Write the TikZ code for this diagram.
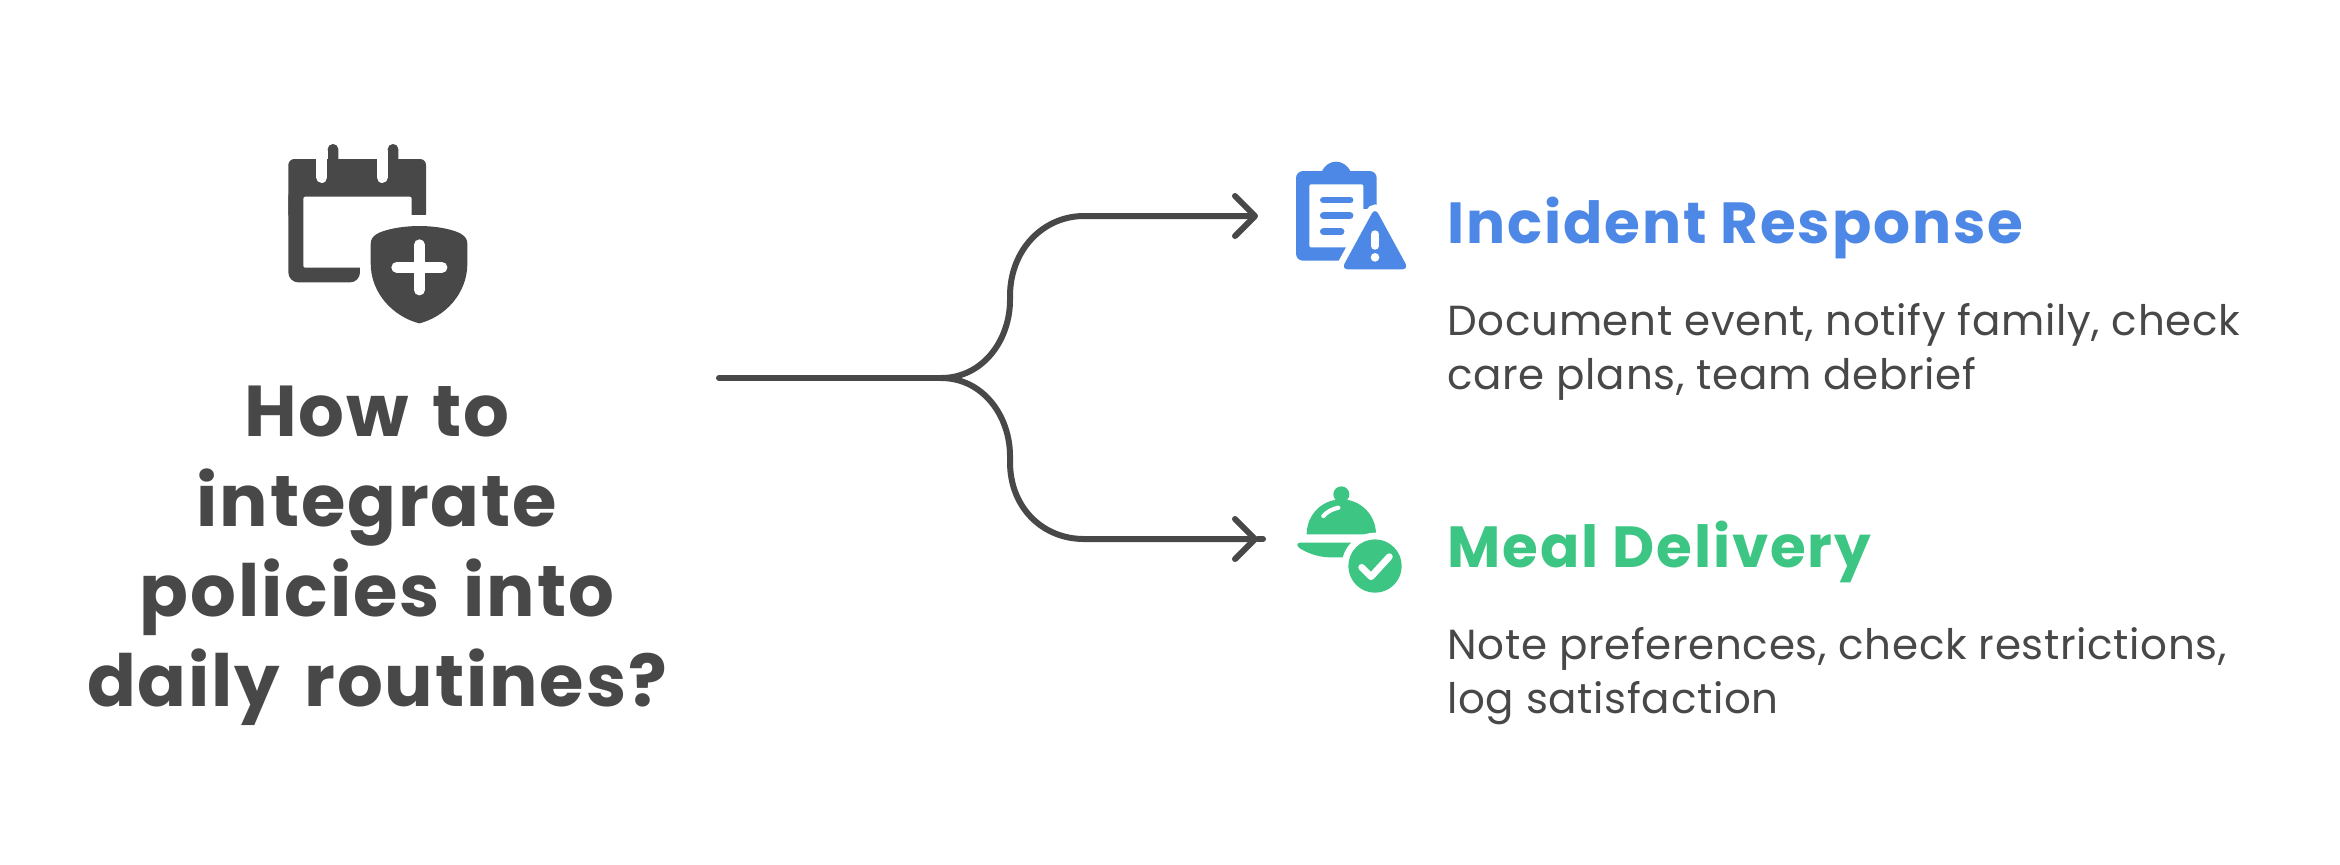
\documentclass[tikz,border=0pt]{standalone}
\usepackage{fontspec}
\usetikzlibrary{arrows.meta}
\setmainfont{Poppins}
\newfontfamily\titlefam{Poppins}[LetterSpace=2.6,WordSpace=1.4]
\newfontfamily\headfam{Poppins}[LetterSpace=3.2]
\newfontfamily\bodyfam{Poppins}[LetterSpace=1.6]
\definecolor{ink}{HTML}{484848}
\definecolor{bluec}{HTML}{4E88E7}
\definecolor{greenc}{HTML}{3CC583}
\tikzset{
  conn/.style={draw=ink,line width=3pt,line cap=round,line join=round},
  arrowed/.style={conn,-{Straight Barb[length=10pt,width=20pt,line cap=round,round]}},
  titletext/.style={inner sep=0pt,align=center,text=ink,font=\titlefam\fontsize{36}{45}\selectfont\bfseries},
  headtext/.style={inner sep=0pt,anchor=base west,font=\headfam\fontsize{29}{34}\selectfont\bfseries},
  bodytext/.style={inner sep=0pt,anchor=base west,align=left,text=ink,font=\bodyfam\fontsize{21}{26.9}\selectfont},
}
\begin{document}
\begin{tikzpicture}[x=0.5pt,y=-0.5pt]
\useasboundingbox (0,0) rectangle (2340,864);
\fill[white] (0,0) rectangle (2340,864);
% calendar + shield icon
\begin{scope}[shift={(260,120)},x=0.1667pt,y=-0.1667pt]
  \fill[ink,rounded corners=3pt] (85,117) rectangle (498,300);
  \fill[ink,rounded corners=5pt] (85,200) rectangle (300,487);
  \fill[ink] (300,200) rectangle (498,285);
  \fill[ink,rounded corners=2.6pt] (203,72) rectangle (235,140);
  \fill[ink,rounded corners=2.6pt] (383,72) rectangle (415,140);
  \draw[white,line width=5.6pt,line cap=round] (185.5,100) -- (185.5,172);
  \draw[white,line width=5.6pt,line cap=round] (366.5,100) -- (366.5,172);
  \fill[white] (168,90) rectangle (203,117);
  \fill[white] (349,90) rectangle (383,117);
  \fill[white,rounded corners=1pt] (130,230) rectangle (455,443);
  \fill[white] (300,285) rectangle (510,500);
  \fill[ink] (478,318) .. controls (420,318) and (370,330) .. (350,342)
     .. controls (338,350) and (332,358) .. (332,372) -- (332,430)
     .. controls (332,520) and (400,590) .. (478,610)
     .. controls (556,590) and (622,520) .. (622,430) -- (622,372)
     .. controls (622,358) and (616,350) .. (604,342)
     .. controls (584,330) and (536,318) .. (478,318) -- cycle;
  \draw[white,line width=5.4pt,line cap=round] (478,374) -- (478,510);
  \draw[white,line width=5.4pt,line cap=round] (410,442) -- (546,442);
\end{scope}
% clipboard icon
\begin{scope}[shift={(1270,140)},x=0.1667pt,y=-0.1667pt]
  \fill[bluec,rounded corners=3.5pt] (78,93) rectangle (320,362);
  \fill[bluec] (155,95) .. controls (165,75) and (180,65) .. (198,65) .. controls (216,65) and (232,75) .. (242,95) -- cycle;
  \fill[white,rounded corners=0.7pt] (118,133) rectangle (280,322);
  \fill[white] (278,207) rectangle (325,330);
  \path[draw=white,fill=white,line width=6.4pt,rounded corners=3.4pt] (315,203) -- (416,388) -- (214,388) -- cycle;
  \fill[bluec,rounded corners=3.4pt] (315,203) -- (416,388) -- (214,388) -- cycle;
  \draw[white,line width=3.7pt,line cap=round] (315,282) -- (315,318);
  \fill[white] (315,352) circle[radius=13];
  \draw[bluec,line width=3.4pt,line cap=round] (160,180) -- (240,180);
  \draw[bluec,line width=3.4pt,line cap=round] (160,227) -- (240,227);
  \draw[bluec,line width=3.4pt,line cap=round] (160,275) -- (213,275);
\end{scope}
% cloche icon
\begin{scope}[shift={(1270,470)},x=0.1667pt,y=-0.1667pt]
  \fill[greenc] (110,193) .. controls (110,135) and (155,88) .. (214,88) .. controls (272,88) and (318,135) .. (318,193) -- cycle;
  \fill[greenc] (214,73) circle[radius=24];
  \draw[white,line width=2.1pt,line cap=round] (160,138) .. controls (172,124) and (188,117) .. (205,113);
  \fill[greenc,rounded corners=1.2pt] (82,218) -- (250,218) -- (225,262) -- (180,262)
     .. controls (140,260) and (110,248) .. (82,230) -- cycle;
  \fill[white] (315,288) circle[radius=100];
  \fill[greenc] (315,288) circle[radius=80];
  \draw[white,line width=3.4pt,line cap=round,line join=round] (275,292) -- (303,320) -- (358,260);
\end{scope}
% title
\node[titletext] (title) at (377,556) {How to\\integrate\\policies into\\daily routines?};
% connectors
\coordinate (start) at (719,378);
\coordinate (fork) at (941,378);
\coordinate (upper) at (1258,216);
\coordinate (lower) at (1258,539);
\coordinate (lowerend) at (1263,539);
\draw[conn] (start) -- (fork);
\draw[arrowed] (fork) .. controls (983,378) and (1010,340) .. (1010,300) -- (1010,296)
   .. controls (1010,250) and (1043,216) .. (1084,216) -- (upper);
\draw[arrowed] (fork) .. controls (983,378) and (1010,416) .. (1010,456) -- (1010,462)
   .. controls (1010,508) and (1043,539) .. (1084,539) -- (lower);
\draw[conn] (lower) -- (lowerend);
% labels
\node[headtext,text=bluec] (h1) at (1447,243) {Incident Response};
\node[bodytext] (b1) at (1447,389) {Document event, notify family, check\\care plans, team debrief};
\node[headtext,text=greenc] (h2) at (1447,567) {Meal Delivery};
\node[bodytext] (b2) at (1447,713) {Note preferences, check restrictions,\\log satisfaction};
\end{tikzpicture}
\end{document}
